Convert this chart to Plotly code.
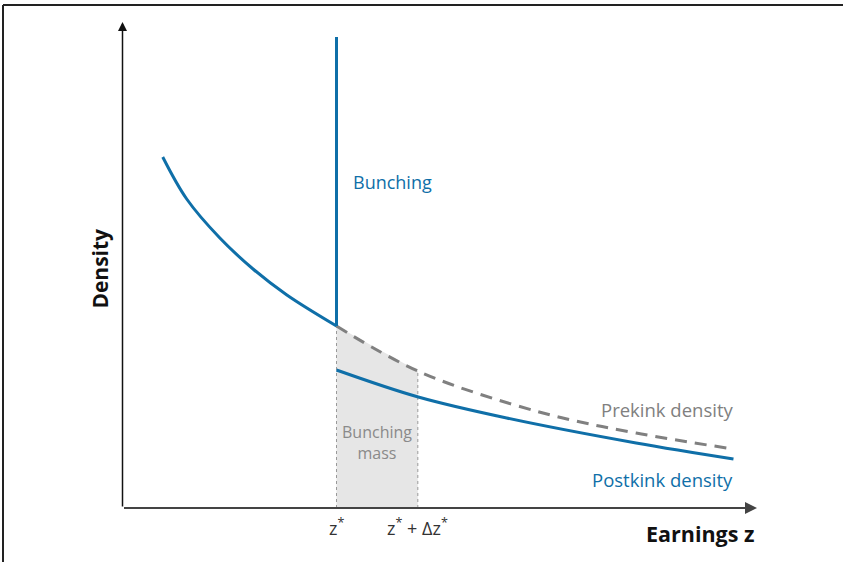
import plotly.graph_objects as go

# ---- data (earnings in units of z*, density arbitrary) ----
z_star = 1.0
delta_z = 0.38
bunching_top = 4.71

pre_x_solid = [0.188, 0.30, 0.455, 0.61, 0.768, 1.0]
pre_y_solid = [3.51, 3.09, 2.70, 2.39, 2.13, 1.82]

pre_x_dash = [1.0, 1.39, 1.965, 2.40, 2.855]
pre_y_dash = [1.82, 1.36, 0.95, 0.75, 0.59]

post_x = [1.0, 1.382, 1.795, 2.40, 2.855]
post_y = [1.38, 1.11, 0.90, 0.65, 0.49]

shade_x = [z_star, z_star, z_star + delta_z, z_star + delta_z]
shade_y = [0, 1.82, 1.37, 0]

x_axis_end = 2.965
y_axis_end = 4.86

BLUE = "#0F6FA8"
GREY = "#808080"
FONT = "Open Sans"

fig = go.Figure()

fig.add_trace(go.Scatter(x=shade_x, y=shade_y, fill="toself", fillcolor="#E6E6E6",
                         line=dict(width=0), mode="lines", hoverinfo="skip"))
fig.add_trace(go.Scatter(x=[z_star, z_star], y=[0, shade_y[1]], mode="lines",
                         line=dict(color="#999999", width=1, dash="dot")))
fig.add_trace(go.Scatter(x=[z_star + delta_z, z_star + delta_z], y=[0, shade_y[2]], mode="lines",
                         line=dict(color="#999999", width=1, dash="dot")))
fig.add_trace(go.Scatter(x=pre_x_dash, y=pre_y_dash, mode="lines", line_shape="spline",
                         line=dict(color=GREY, width=3, dash="12px,8px")))
fig.add_trace(go.Scatter(x=pre_x_solid, y=pre_y_solid, mode="lines", line_shape="spline",
                         line=dict(color=BLUE, width=3)))
fig.add_trace(go.Scatter(x=post_x, y=post_y, mode="lines", line_shape="spline",
                         line=dict(color=BLUE, width=3)))
fig.add_trace(go.Scatter(x=[z_star, z_star], y=[pre_y_solid[-1], bunching_top], mode="lines",
                         line=dict(color=BLUE, width=3)))

ann = []
ann.append(dict(x=x_axis_end, y=0, ax=0, ay=0, xref="x", yref="y", axref="x", ayref="y",
                showarrow=True, arrowhead=2, arrowsize=1.2, arrowwidth=2, arrowcolor="#444444",
                text="", standoff=0, startstandoff=0))
ann.append(dict(x=0, y=y_axis_end, ax=0, ay=0, xref="x", yref="y", axref="x", ayref="y",
                showarrow=True, arrowhead=2, arrowsize=1.2, arrowwidth=1.5, arrowcolor="#111111",
                text="", standoff=0, startstandoff=0))

def txt(x, y, s, size, color, xanchor="center", bold=False, angle=0):
    ann.append(dict(x=x, y=y, xref="x", yref="y", text=("<b>%s</b>" % s) if bold else s,
                    showarrow=False, xanchor=xanchor, yanchor="middle", textangle=angle,
                    font=dict(family=FONT, size=size, color=color)))

txt(1.068, 3.26, "Bunching", 18, BLUE, xanchor="left")
txt(2.862, 0.99, "Prekink density", 18.5, GREY, xanchor="right")
txt(2.862, 0.29, "Postkink density", 18.5, BLUE, xanchor="right")
ann.append(dict(x=1.189, y=0.66, xref="x", yref="y", text="Bunching<br>mass", showarrow=False,
                font=dict(family=FONT, size=16, color="#8a8a8a"), align="center"))
txt(-0.107, 2.39, "Density", 21, "#111111", bold=True, angle=-90)
txt(2.965, -0.25, "Earnings z", 21.5, "#111111", xanchor="right", bold=True)
txt(z_star, -0.19, "z<sup>*</sup>", 18, "#333333")
txt(z_star + delta_z, -0.19, "z<sup>*</sup> + Δz<sup>*</sup>", 18, "#333333")

fig.update_layout(
    width=843, height=562,
    margin=dict(l=0, r=0, t=0, b=0),
    paper_bgcolor="white", plot_bgcolor="white",
    showlegend=False,
    xaxis=dict(range=[-(122.5) / 214, (843 - 122.5) / 214], visible=False, fixedrange=True),
    yaxis=dict(range=[-(562 - 508) / 100, 508 / 100], visible=False, fixedrange=True),
    annotations=ann,
    shapes=[
        dict(type="line", xref="paper", yref="paper", x0=3 / 843, x1=1, y0=1 - 5 / 562, y1=1 - 5 / 562,
             line=dict(color="#222222", width=2)),
        dict(type="line", xref="paper", yref="paper", x0=3 / 843, x1=3 / 843, y0=0, y1=1 - 5 / 562,
             line=dict(color="#222222", width=2)),
    ],
)

fig.write_html("out.html", config={"displayModeBar": False},
               post_script="document.body.style.margin='0';document.body.style.overflow='hidden';")
